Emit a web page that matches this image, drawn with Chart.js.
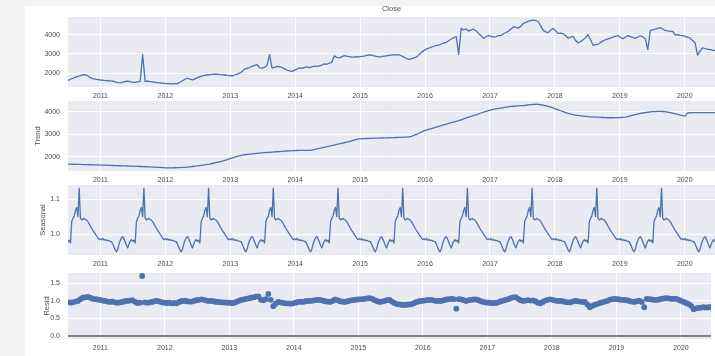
<!DOCTYPE html>
<html>
<head>
<meta charset="utf-8">
<script src="https://cdn.jsdelivr.net/npm/chart.js@4.4.1/dist/chart.umd.min.js"></script>
<style>
  html, body { margin: 0; padding: 0; background: #ffffff; }
  #fig { position: relative; width: 715px; height: 356px; overflow: hidden; background: #f3f3f3; }
  #sheet { position: absolute; left: 25px; top: 6px; width: 690px; height: 350px; background: #ffffff; }
  #fig canvas { position: absolute; left: 0; }
</style>
</head>
<body>
<div id="fig">
  <div id="sheet"></div>
  <canvas id="cObserved" width="715" height="101" style="top:0px"></canvas>
  <canvas id="cTrend" width="715" height="84" style="top:101px"></canvas>
  <canvas id="cSeasonal" width="715" height="84" style="top:185px"></canvas>
  <canvas id="cResid" width="715" height="84" style="top:269px"></canvas>
</div>
<script>
// Multiplicative decomposition of a weekly closing price, mid-2010 to mid-2020.
// Observed, trend and residual are kept every second week; the seasonal
// component is one 52-week cycle that the decomposition repeats each year.
const seriesStart = 2010.5;          // decimal year of the first observation
const weekLen = 7 / 365.25;          // one week, in years

const close = [
  1620,1680,1730,1790,1830,1870,1900,1920,
  1850,1760,1710,1680,1660,1640,
  1630,1610,1600,1590,1575,1540,1500,
  1490,1530,1560,1575,1550,1520,1510,1540,1570,
  2960,
  1570,1580,1560,1540,1520,1500,
  1490,1470,1460,1455,1450,1440,1450,1450,1520,
  1600,1680,1730,1680,1640,1700,1760,
  1810,1850,1880,1900,1920,1930,1940,
  1940,1920,1910,1900,1880,1870,
  1860,1900,1950,2000,2080,
  2220,2240,2290,2350,2400,2440,
  2270,2260,2300,2400,
  2960,
  2270,2300,2350,2330,2300,2220,2160,2120,
  2090,2150,2210,2270,2250,2300,2320,2290,2330,2360,
  2350,2380,2420,2480,2460,2520,2560,
  2900,
  2820,2790,2850,2910,2880,2860,2840,2830,2860,2850,
  2870,2890,2920,2950,2940,2900,2870,2850,2860,2880,2900,
  2920,2940,2960,2950,2960,2900,2830,2760,2720,2740,2790,2830,2950,3080,
  3170,3250,3300,3360,3400,3450,3450,3520,3560,3600,3690,3780,3850,3910,
  2980,
  4330,4250,4300,4190,4250,4290,4200,4070,3950,3810,3900,
  3950,3920,3880,3900,3960,3950,4050,4120,
  4190,4300,4410,4380,4350,4450,4590,4650,4710,4740,4760,4740,4680,4450,
  4230,4150,4110,4250,4330,4200,4070,4080,4040,3950,
  3820,3870,3910,3700,3570,3650,3740,3850,4000,3740,
  3450,3480,3500,3600,3680,3740,3780,3820,3880,3920,
  3950,3870,3790,3880,3950,3900,3850,3820,3880,3950,3880,3790,
  3230,
  4230,4260,4290,4330,4370,4300,4230,4200,4180,4170,3990,4000,3970,
  3950,3920,3880,3820,3700,3570,
  2940,3150,3320,3280,3250,3230,3200,3170
];

const trend = [
  1680,1677,1674,1671,1668,1665,1662,1659,1656,1653,1650,1647,1644,1640,
  1636,1632,1628,1624,1620,1616,1612,1608,1604,1600,1597,1594,1590,
  1585,1580,1575,1570,1565,1560,1555,1550,1545,1540,1533,1526,1520,
  1518,1517,1518,1520,1524,1528,1534,1540,
  1550,1562,1575,1588,1602,1617,1633,1650,
  1665,1685,1708,1732,1758,1785,1815,1848,1882,1918,
  1950,1985,2020,2050,2080,
  2095,2108,2120,2132,2145,2157,2168,2180,
  2188,2196,2204,2212,2220,2228,2236,2244,2252,2260,2268,2274,2280,
  2282,2284,2286,2288,2289,2290,
  2305,2325,2350,2375,2400,2425,2450,
  2475,2500,2525,2550,2575,2600,2625,2650,
  2680,2710,2740,2770,2800,
  2805,2810,2814,2818,2822,2826,2830,2833,2836,2840,2843,2847,2850,
  2854,2858,2862,2866,2870,2875,2880,
  2910,2950,2995,3045,3095,3150,
  3180,3212,3245,3278,3312,3346,3380,3413,3446,3478,3510,3540,3570,3600,
  3640,3680,3720,3760,3795,3830,3860,
  3900,3940,3980,4015,4050,4080,
  4100,4120,4140,4160,4180,4200,4215,4230,
  4238,4246,4254,4262,4270,
  4282,4295,4308,4320,4330,
  4320,4305,4285,4260,
  4230,4195,4160,4120,
  4080,4040,4000,3960,3920,
  3895,3870,3850,3832,3816,3802,3790,3780,
  3773,3766,3760,3754,3748,3742,3736,3730,
  3730,3730,3732,3736,3742,3750,3760,
  3785,3815,3845,3870,3895,3920,
  3940,3958,3974,3988,4000,
  4005,4008,4008,4006,4000,
  3980,3955,3930,3900,
  3875,3850,3825,3800,
  3950,
  3952,3954,3955,3956,3957,3958,3958,3959,3960,3960,3960
];

// 52 weekly seasonal factors, starting with the week of the first observation
const seasonalCycle = [
  0.980,0.983,0.975,1.036,1.045,1.052,1.068,1.076,1.050,1.131,
  1.046,1.041,1.043,1.045,1.042,1.040,1.036,1.030,1.023,1.017,
  1.011,1.006,1.000,0.995,0.990,0.985,0.987,0.984,0.988,0.983,
  0.985,0.982,0.983,0.981,0.980,0.979,0.972,0.964,0.955,0.950,
  0.958,0.972,0.982,0.990,0.993,0.987,0.978,0.969,0.961,0.972,
  0.980,0.985
];
const seasonalWeeks = 521;

const resid = [
  0.96,0.95,0.96,0.98,1.00,1.05,
  1.09,1.10,1.115,1.09,1.06,1.05,1.04,
  1.03,1.01,1.00,0.98,0.97,0.98,0.96,0.95,
  0.956,0.97,0.99,1.00,1.01,1.02,0.98,0.94,0.95,
  1.71,
  0.96,0.95,0.956,0.97,0.99,1.00,0.98,0.96,0.95,
  0.94,0.95,0.93,0.94,0.93,0.97,1.00,1.00,0.99,0.98,
  0.98,1.00,1.02,1.03,1.044,1.03,1.01,1.00,1.00,0.99,
  0.97,0.97,0.96,0.956,0.95,0.95,0.94,0.94,0.97,1.00,
  1.027,1.04,1.06,1.07,1.09,1.10,1.12,1.13,1.03,1.02,1.05,
  1.20,
  1.03,0.85,0.92,0.97,0.96,0.94,0.93,0.93,
  0.92,0.93,0.95,0.97,0.98,0.97,0.99,1.00,1.00,1.01,
  1.02,1.03,1.027,1.01,0.99,0.98,0.97,1.00,1.044,1.02,
  0.99,0.98,0.97,0.99,1.01,1.02,1.03,1.04,1.044,1.05,
  1.06,1.07,1.08,1.06,1.02,0.99,0.97,0.98,1.00,1.02,
  1.027,0.98,0.94,0.91,0.90,0.89,0.885,0.89,0.90,0.91,
  0.94,0.97,0.99,1.00,1.01,1.02,1.03,1.027,1.01,1.00,
  1.00,1.00,1.02,1.04,1.05,1.06,1.05,
  0.78,
  1.05,1.044,1.02,1.00,1.02,1.03,1.04,1.044,1.02,0.99,0.97,
  0.956,0.95,0.94,0.94,0.94,0.96,0.99,1.01,1.027,1.05,1.08,
  1.10,1.106,1.06,1.02,1.00,1.01,1.02,1.01,1.018,0.99,0.95,
  0.93,0.97,1.01,1.03,1.044,1.03,1.01,1.00,1.00,0.99,
  0.97,0.96,0.956,0.98,1.00,0.99,0.98,0.97,0.97,0.90,
  0.82,0.86,0.89,0.91,0.94,0.96,0.98,1.00,1.03,1.05,
  1.06,1.05,1.04,1.03,1.027,1.02,1.00,0.98,0.97,0.99,1.01,0.97,
  0.82,
  1.06,1.05,1.04,1.03,1.027,1.04,1.06,1.07,1.08,1.07,1.06,1.06,1.06,1.03,
  1.00,0.97,0.94,0.91,0.86,
  0.76,0.79,0.80,0.81,0.82,0.81,0.82,0.82
];

const yearTicks = [2011, 2012, 2013, 2014, 2015, 2016, 2017, 2018, 2019, 2020];
const closeTicks = [2000, 3000, 4000];
const trendTicks = [2000, 3000, 4000];
const seasonalTicks = [1.0, 1.1];
const residTicks = [0.0, 0.5, 1.0, 1.5];

// ---- styling ----
const BLUE = '#4C72B0';
const PANEL_BG = '#EAEAF2';
const TEXT = '#4d4d4d';
const FONT = "'Liberation Sans', Arial, sans-serif";

// every second week for the sampled series, every week for the seasonal one
const biweekly = values => values.map((v, i) => ({ x: seriesStart + i * 2 * weekLen, y: v }));
const seasonal = Array.from({ length: seasonalWeeks }, (_, w) => ({
  x: seriesStart + w * weekLen,
  y: seasonalCycle[w % seasonalCycle.length]
}));

const xMin = seriesStart;
const xMax = seriesStart + (close.length - 1) * 2 * weekLen;

// axis limits padded by 5% of the data span on both sides
function padded(values) {
  const lo = Math.min(...values), hi = Math.max(...values);
  const m = (hi - lo) * 0.05;
  return [lo - m, hi + m];
}

const panelBg = {
  id: 'panelBg',
  beforeDraw(chart) {
    const { ctx, chartArea: a } = chart;
    ctx.save();
    ctx.fillStyle = PANEL_BG;
    ctx.fillRect(a.left, a.top, a.right - a.left, a.bottom - a.top);
    ctx.restore();
  }
};

const zeroLine = {
  id: 'zeroLine',
  beforeDatasetsDraw(chart) {
    const { ctx, chartArea: a, scales } = chart;
    const py = scales.y.getPixelForValue(0);
    ctx.save();
    ctx.strokeStyle = '#5c5c5c';
    ctx.lineWidth = 1.5;
    ctx.beginPath();
    ctx.moveTo(a.left, py);
    ctx.lineTo(a.right, py);
    ctx.stroke();
    ctx.restore();
  }
};

function makePanel(canvasId, opts) {
  const { datasets, limits, ticks, format, yTitle, yTitleX, title, extraPlugins } = opts;
  return new Chart(document.getElementById(canvasId), {
    type: 'line',
    data: { datasets },
    options: {
      responsive: false,
      animation: false,
      events: [],
      layout: { padding: 0 },
      plugins: {
        legend: { display: false },
        tooltip: { enabled: false },
        title: title ? {
          display: true, text: title, color: TEXT, fullSize: false,
          font: { family: FONT, size: 7.5, weight: 'normal' },
          padding: { top: 4.5, bottom: 3.5 }
        } : { display: false }
      },
      scales: {
        x: {
          type: 'linear', min: xMin, max: xMax,
          afterBuildTicks: s => { s.ticks = yearTicks.map(v => ({ value: v })); },
          afterFit: s => { s.height = 14; s.paddingLeft = 0; s.paddingRight = 0; },
          grid: { color: '#ffffff', lineWidth: 1, drawTicks: false },
          border: { display: false },
          ticks: {
            autoSkip: false, maxRotation: 0, padding: 5, color: TEXT,
            font: { family: FONT, size: 7 },
            callback: v => String(v)
          }
        },
        y: {
          type: 'linear', min: limits[0], max: limits[1],
          afterBuildTicks: s => { s.ticks = ticks.map(v => ({ value: v })); },
          afterFit: s => { s.width = 68; s.paddingTop = 0; s.paddingBottom = 0; },
          grid: { color: '#ffffff', lineWidth: 1, drawTicks: false },
          border: { display: false },
          ticks: {
            padding: 8, color: TEXT,
            font: { family: FONT, size: 7 },
            callback: format
          },
          title: yTitle ? {
            display: true, text: yTitle, color: TEXT,
            font: { family: FONT, size: 7.5 },
            padding: { top: yTitleX - 4.5, bottom: 0 }
          } : { display: false }
        }
      }
    },
    plugins: [panelBg].concat(extraPlugins || [])
  });
}

const lineStyle = {
  borderColor: BLUE, borderWidth: 1.3, pointRadius: 0,
  borderJoinStyle: 'round', borderCapStyle: 'round', tension: 0, fill: false
};

makePanel('cObserved', {
  title: 'Close',
  datasets: [Object.assign({ data: biweekly(close) }, lineStyle)],
  limits: padded(close), ticks: closeTicks, format: v => String(v)
});

makePanel('cTrend', {
  yTitle: 'Trend', yTitleX: 38,
  datasets: [Object.assign({ data: biweekly(trend) }, lineStyle)],
  limits: padded(trend), ticks: trendTicks, format: v => String(v)
});

makePanel('cSeasonal', {
  yTitle: 'Seasonal', yTitleX: 43,
  datasets: [Object.assign({ data: seasonal }, lineStyle)],
  limits: padded(seasonalCycle), ticks: seasonalTicks, format: v => v.toFixed(1)
});

makePanel('cResid', {
  yTitle: 'Resid', yTitleX: 47,
  datasets: [{
    data: biweekly(resid), showLine: false,
    pointRadius: 2.9, pointBorderWidth: 0,
    pointBackgroundColor: BLUE, pointBorderColor: BLUE
  }],
  limits: padded(resid.concat([0])), ticks: residTicks, format: v => v.toFixed(1),
  extraPlugins: [zeroLine]
});
</script>
</body>
</html>
